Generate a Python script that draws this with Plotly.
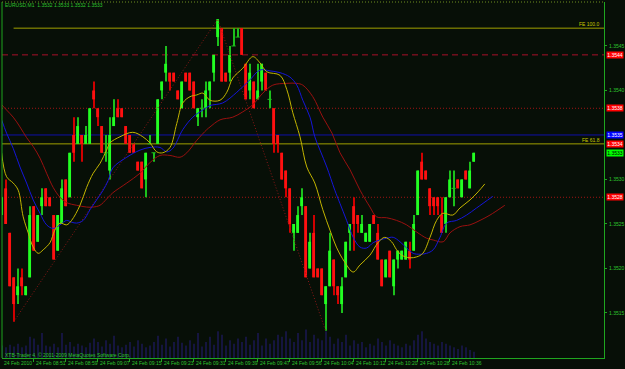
import plotly.graph_objects as go
import numpy as np

# ---------------- data ----------------
opens = [1.3526,1.3529,1.3524,1.3519,1.3517,1.3519,1.3517,1.3519,1.3527,1.3523,
         1.3527,1.3529,1.3528,1.3526,1.3522,1.3525,1.3530,1.3528,1.3535,1.3534,
         1.3535,1.3534,1.3534,1.3540,1.3538,1.3536,1.3533,1.3531,1.3536,1.3538,
         1.3538,1.3536,1.3535,1.3534,1.3532,1.3532,1.3530,1.3534,1.3533,1.3534,
         1.3540,1.3542,1.3542,1.3542,1.3540,1.3538,1.3542,1.3542,1.3541,1.3537,
         1.3538,1.3538,1.3540,1.3542,1.3546,1.3547,1.3542,1.3542,1.3545,1.3546,
         1.3547,1.3543,1.3540,1.3541,1.3539,1.3541,1.3542,1.3539,1.3538,1.3535,
         1.3533,1.3531,1.3529,1.3524,1.3524,1.3527,1.3527,1.3520,1.3524,1.3520,
         1.3520,1.3516,1.3518,1.3521,1.3518,1.3516,1.3519,1.3524,1.3527,1.3526,
         1.3524,1.3523,1.3523,1.3526,1.3524,1.3521,1.3519,1.3522,1.3518,1.3521,
         1.3521,1.3521,1.3522,1.3522,1.3526,1.3532,1.3531,1.3529,1.3528,1.3528,
         1.3526,1.3525,1.3528,1.3529,1.3530,1.3528,1.3531,1.3529,1.3532]
highs = [1.3528,1.3530,1.3524,1.3519,1.3520,1.3520,1.3518,1.3527,1.3527,1.3526,
         1.3529,1.3529,1.3528,1.3526,1.3526,1.3530,1.3530,1.3533,1.3537,1.3537,
         1.3535,1.3536,1.3538,1.3541,1.3538,1.3536,1.3535,1.3537,1.3539,1.3539,
         1.3538,1.3536,1.3535,1.3534,1.3532,1.3532,1.3533,1.3535,1.3533,1.3539,
         1.3541,1.3545,1.3542,1.3542,1.3540,1.3541,1.3542,1.3542,1.3541,1.3538,
         1.3539,1.3541,1.3541,1.3544,1.3548,1.3547,1.3542,1.3545,1.3547,1.3547,
         1.3547,1.3543,1.3543,1.3541,1.3543,1.3543,1.3542,1.3540,1.3538,1.3535,
         1.3533,1.3531,1.3529,1.3525,1.3527,1.3529,1.3527,1.3524,1.3526,1.3520,
         1.3520,1.3518,1.3524,1.3521,1.3518,1.3519,1.3523,1.3525,1.3528,1.3526,
         1.3526,1.3524,1.3525,1.3526,1.3525,1.3521,1.3521,1.3522,1.3521,1.3522,
         1.3522,1.3523,1.3523,1.3526,1.3531,1.3533,1.3531,1.3529,1.3528,1.3528,
         1.3528,1.3528,1.3531,1.3531,1.3530,1.3530,1.3531,1.3532,1.3533]
lows = [1.3526,1.3525,1.3518,1.3514,1.3516,1.3517,1.3517,1.3519,1.3522,1.3523,
        1.3526,1.3527,1.3527,1.3521,1.3522,1.3525,1.3527,1.3528,1.3532,1.3534,
        1.3532,1.3534,1.3534,1.3538,1.3536,1.3533,1.3532,1.3530,1.3536,1.3537,
        1.3537,1.3534,1.3533,1.3533,1.3531,1.3529,1.3528,1.3534,1.3532,1.3534,
        1.3539,1.3541,1.3540,1.3541,1.3539,1.3538,1.3541,1.3540,1.3538,1.3536,
        1.3537,1.3537,1.3538,1.3541,1.3545,1.3541,1.3541,1.3541,1.3545,1.3546,
        1.3544,1.3539,1.3539,1.3538,1.3539,1.3540,1.3540,1.3538,1.3533,1.3533,
        1.3530,1.3528,1.3524,1.3522,1.3524,1.3526,1.3519,1.3520,1.3519,1.3519,
        1.3517,1.3513,1.3518,1.3517,1.3516,1.3515,1.3519,1.3522,1.3522,1.3524,
        1.3524,1.3523,1.3523,1.3525,1.3521,1.3518,1.3519,1.3519,1.3517,1.3520,
        1.3521,1.3521,1.3520,1.3522,1.3526,1.3530,1.3530,1.3526,1.3526,1.3526,
        1.3524,1.3524,1.3528,1.3527,1.3529,1.3528,1.3530,1.3529,1.3532]
closes = [1.3528,1.3525,1.3518,1.3516,1.3518,1.3518,1.3518,1.3526,1.3522,1.3526,
          1.3528,1.3527,1.3527,1.3521,1.3526,1.3529,1.3527,1.3533,1.3533,1.3536,
          1.3534,1.3535,1.3538,1.3539,1.3537,1.3533,1.3533,1.3535,1.3537,1.3537,
          1.3537,1.3534,1.3533,1.3533,1.3531,1.3529,1.3533,1.3534,1.3533,1.3539,
          1.3541,1.3543,1.3541,1.3541,1.3539,1.3541,1.3541,1.3540,1.3538,1.3538,
          1.3538,1.3540,1.3541,1.3544,1.3548,1.3541,1.3541,1.3544,1.3545,1.3546,
          1.3544,1.3539,1.3542,1.3538,1.3540,1.3543,1.3540,1.3539,1.3534,1.3534,
          1.3530,1.3529,1.3525,1.3525,1.3526,1.3528,1.3519,1.3523,1.3519,1.3519,
          1.3517,1.3518,1.3522,1.3518,1.3517,1.3518,1.3523,1.3525,1.3525,1.3525,
          1.3525,1.3524,1.3525,1.3525,1.3521,1.3518,1.3521,1.3519,1.3521,1.3522,
          1.3522,1.3523,1.3521,1.3525,1.3531,1.3530,1.3530,1.3527,1.3527,1.3527,
          1.3524,1.3528,1.3530,1.3529,1.3529,1.3530,1.3530,1.3531,1.3533]
volumes = [14,12,15,13,16,12,14,24,22,15,
           28,14,13,16,12,28,15,18,13,16,
           14,12,17,22,18,13,20,16,25,14,
           12,15,18,13,20,16,12,14,18,25,
           15,22,13,18,24,17,14,20,16,28,
           13,18,24,15,30,26,14,20,16,22,
           18,24,15,20,28,14,22,16,20,26,
           24,30,22,18,28,20,32,18,26,22,
           20,30,24,16,22,18,26,14,20,16,
           18,12,16,14,22,18,14,20,16,14,
           12,16,14,20,26,30,22,18,16,14,
           18,16,14,12,10,14,12,9,7]

ma_yellow_x = [0,1.25,2.9,4.15,5.4,6.65,7.9,9.15,10.4,12.1,13.3,14.6,16.25,17.5,19.6,21.25,22.9,24.6,26.25,27.1,
               29.6,32.8,35.3,37.1,38.8,40.3,42.1,43.8,45.3,47.1,48.8,50.3,52.1,54.6,56.3,57.8,60.3,62.8,64.6,66.3,
               69.6,71.3,72.8,74.6,76.3,78.3,80.3,82.1,83.7,85.8,87.9,89.6,92.1,94.1,95.8,97.5,98.75,100,102.1,103.75,
               105.3,107.1,108.75,110.3,112.8,114.6,117.1,119.1,120.8]
ma_yellow_y = [1.35330,1.35303,1.35296,1.35288,1.35258,1.35240,1.35224,1.35217,1.35221,1.35229,
               1.35243,1.35251,1.35249,1.35254,1.35271,1.35291,1.35307,1.35318,1.35333,1.35341,
               1.35348,1.35353,1.35348,1.35341,1.35331,1.35330,1.35336,1.35363,1.35386,1.35393,
               1.35395,1.35397,1.35389,1.35389,1.35398,1.35414,1.35425,1.35438,1.35431,1.35421,
               1.35417,1.35401,1.35375,1.35348,1.35314,1.35296,1.35266,1.35243,1.35224,1.35207,
               1.35196,1.35204,1.35215,1.35229,1.35235,1.35230,1.35221,1.35215,1.35212,1.35213,
               1.35217,1.35235,1.35254,1.35262,1.35260,1.35268,1.35277,1.35286,1.35295]
ma_blue_x = [0,1.25,2.9,4.6,6.25,7.9,9.6,11.25,12.9,14.6,
             16.25,17.5,18.75,20.4,22.1,23.75,25.4,26.65,27.8,31.3,
             34.6,37.1,39.6,41.3,42.8,45.3,47.8,50.3,52.1,55.3,
             58.8,62.1,64.6,67.1,69.6,72.1,73.8,75.3,77.1,78.3,
             79.6,81.3,83.3,84.6,86.25,87.9,89.6,91.25,92.9,94.6,
             96.25,97.9,99.6,101.25,102.9,104.6,106.25,107.9,109.6,111.25,
             113.75,116.25,118.75,122.8]
ma_blue_y = [1.35367,1.35352,1.35335,1.35314,1.35296,1.35277,1.35262,1.35249,1.35245,1.35249,
             1.35254,1.35252,1.35251,1.35254,1.35266,1.35277,1.35288,1.35299,1.35313,1.35325,
             1.35333,1.35336,1.35336,1.35331,1.35335,1.35356,1.35370,1.35378,1.35383,1.35386,
             1.35398,1.35412,1.35423,1.35422,1.35420,1.35415,1.35406,1.35389,1.35370,1.35348,
             1.35333,1.35314,1.35288,1.35273,1.35254,1.35235,1.35224,1.35223,1.35229,1.35232,
             1.35234,1.35235,1.35230,1.35223,1.35217,1.35216,1.35217,1.35221,1.35235,1.35251,
             1.35254,1.35260,1.35268,1.35281]
ma_red_x = [0,1.25,2.9,4.6,6.25,7.9,9.6,11.25,12.9,14.6,
            16.25,18.75,21.25,22.9,24.6,26.25,27.8,31.3,34.6,37.1,
            39.6,42.1,44.6,46.3,48.8,51.3,52.1,54.6,57.8,60.3,
            62.8,65.3,67.8,71.3,73.8,75.3,77.8,80.3,82.6,84.6,
            87.1,89.6,92.1,93.75,96.25,98.75,101.25,103.75,106.25,107.9,
            110.4,112.1,114.6,117.1,119.6,122.1,125.8]
ma_red_y = [1.35384,1.35378,1.35370,1.35359,1.35347,1.35337,1.35324,1.35307,1.35291,1.35280,
            1.35274,1.35271,1.35269,1.35269,1.35271,1.35278,1.35285,1.35296,1.35307,1.35319,
            1.35327,1.35327,1.35325,1.35330,1.35344,1.35356,1.35359,1.35367,1.35370,1.35376,
            1.35384,1.35397,1.35406,1.35408,1.35408,1.35406,1.35393,1.35370,1.35352,1.35330,
            1.35311,1.35288,1.35269,1.35258,1.35257,1.35254,1.35249,1.35241,1.35234,1.35232,
            1.35230,1.35240,1.35247,1.35249,1.35254,1.35260,1.35271]

fe_bars = [3, 54, 81]
fe_prices = [1.3514, 1.3548, 1.3513]
fe_levels = [1.3547, 1.3534]
fe_labels = ["FE 100.0", "FE 61.8"]
red_dashed_level = 1.3544
red_dotted_levels = [1.3538, 1.3528]
blue_level = 1.3535

time_tick_bars = [0, 8, 16, 24, 32, 40, 48, 56, 64, 72, 80, 88, 96, 104, 112]
time_tick_labels = ["24 Feb 2010", "24 Feb 08:51", "24 Feb 08:59", "24 Feb 09:07", "24 Feb 09:15",
                    "24 Feb 09:23", "24 Feb 09:31", "24 Feb 09:39", "24 Feb 09:47", "24 Feb 09:56",
                    "24 Feb 10:04", "24 Feb 10:12", "24 Feb 10:20", "24 Feb 10:28", "24 Feb 10:36"]
price_ticks = [1.3515, 1.3520, 1.3525, 1.3530, 1.3540, 1.3545]
price_tick_labels = ["1.3515", "1.3520", "1.3525", "1.3530", "1.3540", "1.3545"]
box_prices = [1.3550, 1.3544, 1.3538, 1.3535, 1.3534, 1.3533, 1.3528]
box_labels = ["1.3550", "1.3544", "1.3538", "1.3535", "1.3534", "1.3533", "1.3528"]
box_colors = ["#ff0000", "#ff0000", "#ff0000", "#0000ff", "#ff0000", "#00ff00", "#ff0000"]
title_text = "EURUSD,M1  1.3532 1.3533 1.3532 1.3533"
footer_text = "XTB-Trader 4, © 2001-2009 MetaQuotes Software Corp."

# ---------------- styles ----------------
BG = "#070f07"
FG = "#1fa51f"
TXT = "#2ec42e"
BULL = "#22ff22"
BEAR = "#ff1010"
BULL_WICK = "#1cc01c"
BEAR_WICK = "#d00000"
X_RANGE = [0.1, 150.6]
Y_RANGE = [1.350994, 1.354994]
FONT = "Liberation Sans"
FINE_DOT = "1px,2px"

o = np.array(opens); h = np.array(highs); l = np.array(lows); c = np.array(closes)
x = np.arange(len(opens))
up = c >= o
dn = ~up
doji = c == o

fig = go.Figure()

# volume
fig.add_trace(go.Bar(x=x, y=volumes, yaxis="y2", width=0.25, marker_color="#15153f",
                     marker_line_width=0, showlegend=False, hoverinfo="skip"))

# FE diagonal
fig.add_trace(go.Scatter(x=fe_bars, y=fe_prices, mode="lines",
                         line=dict(color="#8a1616", width=1, dash=FINE_DOT), showlegend=False, hoverinfo="skip"))

# candles: wicks
fig.add_trace(go.Bar(x=x[up], base=l[up], y=(h - l)[up], width=0.25, marker_color=BULL_WICK,
                     marker_line_width=0, showlegend=False))
fig.add_trace(go.Bar(x=x[dn], base=l[dn], y=(h - l)[dn], width=0.25, marker_color=BEAR_WICK,
                     marker_line_width=0, showlegend=False))
# bodies
fig.add_trace(go.Bar(x=x[up & ~doji], base=o[up & ~doji], y=(c - o)[up & ~doji], width=0.72,
                     marker_color=BULL, marker_line_width=0, showlegend=False))
fig.add_trace(go.Bar(x=x[dn], base=c[dn], y=(o - c)[dn], width=0.72,
                     marker_color=BEAR, marker_line_width=0, showlegend=False))
fig.add_trace(go.Scatter(x=x[doji], y=c[doji], mode="markers",
                         marker=dict(symbol="line-ew", size=3, line=dict(color=BULL_WICK, width=1)),
                         showlegend=False))

# moving averages
fig.add_trace(go.Scatter(x=ma_red_x, y=ma_red_y, mode="lines", line=dict(color="#9a1010", width=1, shape="spline"),
                         showlegend=False))
fig.add_trace(go.Scatter(x=ma_blue_x, y=ma_blue_y, mode="lines", line=dict(color="#1515d8", width=1, shape="spline"),
                         showlegend=False))
fig.add_trace(go.Scatter(x=ma_yellow_x, y=ma_yellow_y, mode="lines", line=dict(color="#c2b400", width=1, shape="spline"),
                         showlegend=False))

shapes = []
# horizontal levels
shapes.append(dict(type="line", xref="x", yref="y", x0=fe_bars[0], x1=X_RANGE[1], y0=fe_levels[0], y1=fe_levels[0],
                   line=dict(color="#a0a000", width=1), layer="below"))
shapes.append(dict(type="line", xref="paper", yref="y", x0=0, x1=1, y0=fe_levels[1], y1=fe_levels[1],
                   line=dict(color="#a0a000", width=1), layer="below"))
shapes.append(dict(type="line", xref="paper", yref="y", x0=0, x1=1, y0=red_dashed_level, y1=red_dashed_level,
                   line=dict(color="#a8102a", width=1, dash="6px,4px"), layer="below"))
for lv in red_dotted_levels:
    shapes.append(dict(type="line", xref="paper", yref="y", x0=0, x1=1, y0=lv, y1=lv,
                       line=dict(color="#a01414", width=1, dash=FINE_DOT), layer="below"))
shapes.append(dict(type="line", xref="paper", yref="y", x0=0, x1=1, y0=blue_level, y1=blue_level,
                   line=dict(color="#1010a8", width=1), layer="below"))
# borders
shapes.append(dict(type="line", xref="paper", yref="paper", x0=0, x1=0, y0=0, y1=1, line=dict(color=FG, width=1)))
shapes.append(dict(type="line", xref="paper", yref="paper", x0=0, x1=1, y0=1, y1=1,
                   line=dict(color="#6f8f20", width=1, dash=FINE_DOT)))

annotations = []
annotations.append(dict(xref="paper", yref="paper", x=0.002, y=0.992, text=title_text, showarrow=False,
                        xanchor="left", yanchor="middle", font=dict(family=FONT, size=5, color=TXT)))
annotations.append(dict(xref="paper", yref="paper", x=0.002, y=0.009, text=footer_text, showarrow=False,
                        xanchor="left", yanchor="middle", font=dict(family=FONT, size=5, color=TXT)))
for tb, tl in zip(time_tick_bars, time_tick_labels):
    xpos = (tb - X_RANGE[0]) / (X_RANGE[1] - X_RANGE[0])
    annotations.append(dict(xref="paper", yref="paper", x=max(xpos, 0.0), y=-0.014, text=tl, showarrow=False,
                            xanchor="left", yanchor="middle", font=dict(family=FONT, size=5, color=TXT)))
for pv, pl in zip(price_ticks, price_tick_labels):
    annotations.append(dict(xref="paper", yref="y", x=1, xshift=3, y=pv, text=pl, showarrow=False,
                            xanchor="left", yanchor="middle", font=dict(family=FONT, size=5, color=TXT)))
for pv, pl, col in zip(box_prices, box_labels, box_colors):
    annotations.append(dict(xref="paper", yref="y", x=1, xshift=2, y=pv, text=pl, showarrow=False,
                            xanchor="left", yanchor="middle", bgcolor=col, width=16, height=6, borderpad=0,
                            font=dict(family=FONT, size=5, color="#000000" if col == "#00ff00" else "#ffffff")))
for lv, lb in zip(fe_levels, fe_labels):
    annotations.append(dict(xref="paper", yref="y", x=0.997, y=lv, yshift=4, text=lb, showarrow=False,
                            xanchor="right", yanchor="middle", font=dict(family=FONT, size=5, color="#c8c800")))

fig.update_layout(
    width=625, height=369,
    margin=dict(l=2, r=21, t=2, b=11),
    paper_bgcolor=BG, plot_bgcolor=BG,
    barmode="overlay", showlegend=False,
    shapes=shapes, annotations=annotations,
    xaxis=dict(range=X_RANGE, showgrid=False, zeroline=False, showline=True, linecolor=FG, linewidth=1,
               tickvals=time_tick_bars, ticks="outside", ticklen=3, tickcolor=FG, showticklabels=False,
               fixedrange=True),
    yaxis=dict(range=Y_RANGE, side="right", showgrid=False, zeroline=False, showline=True, linecolor=FG,
               linewidth=1, tickvals=price_ticks, ticks="outside", ticklen=2, tickcolor=FG,
               showticklabels=False, fixedrange=True),
    yaxis2=dict(range=[0, 400], overlaying="y", visible=False, fixedrange=True),
)

fig.write_html("out.html")
